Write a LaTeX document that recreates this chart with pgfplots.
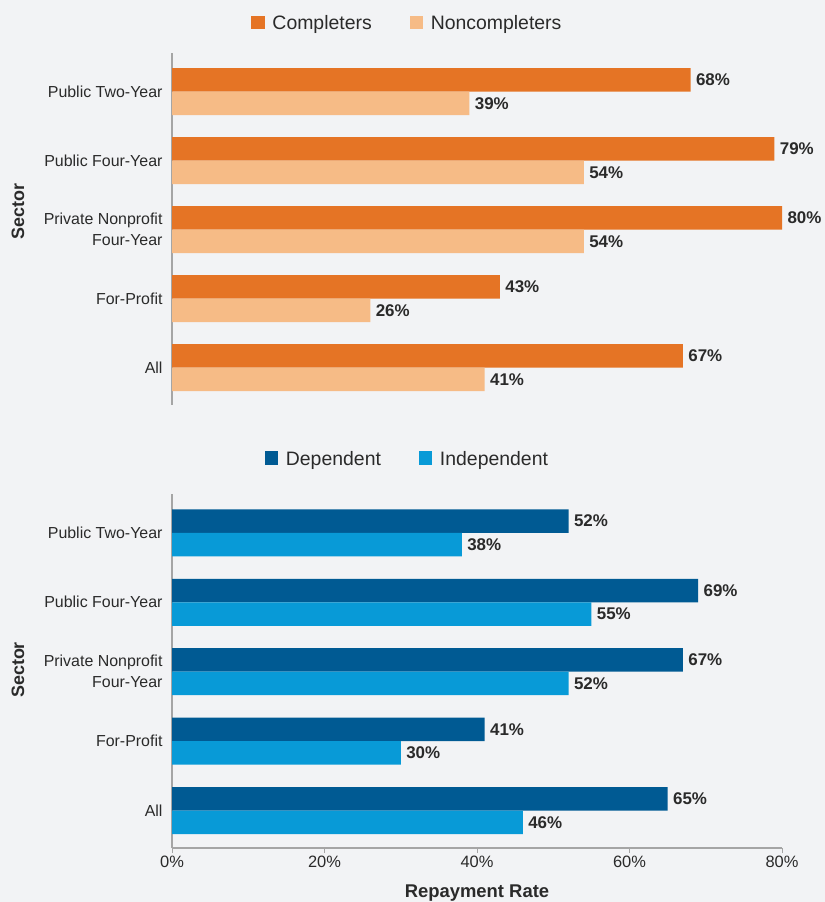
\documentclass[border=0pt]{standalone}
\usepackage{fontspec}
\setmainfont{Liberation Sans}
\usepackage{pgfplots}
\pgfplotsset{compat=1.18}
\definecolor{bg}{HTML}{F2F3F5}
\definecolor{orgD}{HTML}{E57425}
\definecolor{orgL}{HTML}{F6BB86}
\definecolor{bluD}{HTML}{005A93}
\definecolor{bluL}{HTML}{089AD7}
\definecolor{axgray}{HTML}{A5A5A5}
\definecolor{txt}{HTML}{2A2A2A}
\pgfplotsset{
  mybars/.style={
    xbar, scale only axis, width=610bp,
    xmin=0, xmax=80, ymin=-0.54, ymax=4.56,
    ytick={0,1,2,3,4},
    yticklabels={All, For-Profit, {Private Nonprofit\\Four-Year}, Public Four-Year, Public Two-Year},
    yticklabel style={align=right, font=\fontsize{16}{21}\selectfont, text=txt, xshift=-1bp},
    major y tick style={draw=none},
    major tick length=5bp,
    axis line style={-, axgray, line width=1.2bp},
    bar width=23.5bp,
    point meta=x,
    nodes near coords={\pgfmathprintnumber{\pgfplotspointmeta}\%},
    nodes near coords style={font=\bfseries\fontsize{17}{17}\selectfont, text=txt, anchor=west, xshift=2bp},
    /pgf/number format/assume math mode=true,
    ylabel={Sector},
    ylabel style={font=\bfseries\fontsize{18}{18}\selectfont, text=txt, anchor=center},
    legend columns=2,
    legend style={draw=none, fill=none, font=\fontsize{19.5}{19.5}\selectfont, text=txt, anchor=center,
      /tikz/every even column/.append style={column sep=36bp}},
    legend image code/.code={\fill[##1,draw=none] (0bp,-6bp) rectangle (13.5bp,7.5bp); \path (19bp,0bp);},
  }
}
\begin{document}
\begin{tikzpicture}
\fill[bg] (0,0) rectangle (825bp,902bp);
% Top panel
\begin{axis}[mybars, at={(172bp,497bp)}, anchor=south west, height=352bp,
  axis x line=none, axis y line*=left,
  ylabel style={at={(axis description cs:-0.2525,0.55)}},
  legend style={at={(axis description cs:0.386,1.085)}}]
\addplot[fill=orgD, draw=none, bar shift=11.75bp] coordinates {(67,0) (43,1) (80,2) (79,3) (68,4)};
\addlegendentry{Completers}
\addplot[fill=orgL, draw=none, bar shift=-11.75bp] coordinates {(41,0) (26,1) (54,2) (54,3) (39,4)};
\addlegendentry{Noncompleters}
\end{axis}
% Bottom panel
\begin{axis}[mybars, at={(172bp,54bp)}, anchor=south west, height=354bp,
  axis x line*=bottom, axis y line*=left,
  xtick={0,20,40,60,80}, xticklabels={0\%,20\%,40\%,60\%,80\%},
  xtick align=outside,
  major x tick style={axgray, line width=1bp},
  xticklabel style={font=\fontsize{16.5}{16.5}\selectfont, text=txt},
  xlabel={Repayment Rate},
  xlabel style={font=\bfseries\fontsize{18.5}{18.5}\selectfont, text=txt, at={(axis description cs:0.5,-0.127)}, anchor=center},
  ylabel style={at={(axis description cs:-0.2525,0.503)}},
  legend style={at={(axis description cs:0.386,1.099)}}]
\addplot[fill=bluD, draw=none, bar shift=11.75bp] coordinates {(65,0) (41,1) (67,2) (69,3) (52,4)};
\addlegendentry{Dependent}
\addplot[fill=bluL, draw=none, bar shift=-11.75bp] coordinates {(46,0) (30,1) (52,2) (55,3) (38,4)};
\addlegendentry{Independent}
\end{axis}
\pgfresetboundingbox
\path[use as bounding box] (0,0) rectangle (825bp,902bp);
\end{tikzpicture}
\end{document}
